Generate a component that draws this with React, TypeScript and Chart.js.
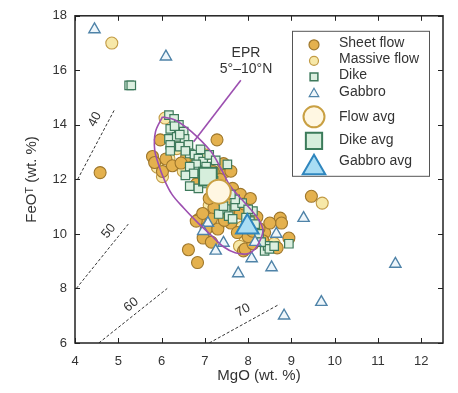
import React, { useEffect, useRef } from "react";
import { Chart, registerables } from "chart.js";

Chart.register(...registerables);

const FONT = "'Liberation Sans', Arial, Helvetica, sans-serif";

type P = [number, number];

const xTicks = [4, 5, 6, 7, 8, 9, 10, 11, 12];
const yTicks = [6, 8, 10, 12, 14, 16, 18];
const xRange: P = [4, 12.5];
const yRange: P = [6, 18];

const xTitle = "MgO (wt. %)";
const yTitle = "FeOᵀ (wt. %)";

const sheetFlow: P[] = [
  [4.58, 12.25], [7.28, 13.45], [9.46, 11.38], [8.74, 10.58], [8.77, 10.4],
  [8.94, 9.85], [8.38, 10.05], [7.89, 9.38], [6.62, 9.42], [6.83, 8.95],
  [6.87, 10.55], [5.97, 13.45], [5.79, 12.84], [6.74, 12.55], [5.84, 12.62],
  [6.02, 12.29], [6.76, 12.4], [6.8, 11.82], [7.48, 12.29], [7.64, 11.67],
  [7.82, 11.45], [7.21, 10.95], [7.7, 10.91], [7.82, 10.76], [6.8, 10.47],
  [7.03, 10.18], [7.3, 10.18], [8.04, 10.65], [8.34, 9.75], [7.93, 9.45],
  [8.67, 9.49], [6.96, 9.85], [8.2, 10.62], [7.19, 12.29], [6.58, 12.84],
  [8.11, 9.64], [7.43, 12.58],
  [6.1, 12.75], [6.25, 12.5], [6.45, 12.6], [7.1, 11.3], [7.6, 10.4],
  [7.75, 10.05], [8.0, 9.9], [8.25, 10.2], [8.5, 10.4], [7.45, 10.5],
  [7.15, 10.55], [6.95, 10.75], [7.9, 11.1], [8.05, 11.3], [7.35, 12.0],
  [7.6, 12.3], [8.1, 10.1], [7.15, 9.7],
];

const massiveFlow: P[] = [
  [4.85, 17.0], [9.71, 11.13], [6.08, 14.25], [6.35, 13.13], [6.17, 12.76],
  [6.58, 12.73], [5.9, 12.45], [6.92, 12.47], [6.85, 11.93], [7.55, 11.2],
  [7.7, 11.2], [7.25, 10.91], [7.32, 10.36], [6.98, 9.9], [8.11, 10.55],
  [7.93, 9.75], [6.4, 13.27], [7.03, 12.36], [6.02, 12.1], [7.86, 10.25],
  [7.41, 11.35],
  [6.5, 12.3], [7.0, 12.9], [7.5, 11.6], [7.1, 11.05], [7.65, 10.7],
  [8.15, 10.0], [7.8, 9.55], [8.6, 9.65],
];

const dike: P[] = [
  [5.25, 15.45], [5.3, 15.45],
  [6.17, 14.36], [6.29, 14.22], [6.4, 14.0], [6.2, 13.85], [6.51, 13.75],
  [6.17, 13.49], [6.35, 13.56], [6.53, 13.49], [6.2, 13.27], [6.42, 13.2],
  [6.62, 13.27], [6.65, 12.95], [6.76, 12.91], [6.85, 12.76], [6.96, 12.65],
  [6.8, 12.55], [7.03, 12.47], [6.85, 12.29], [7.52, 12.55], [6.65, 12.47],
  [6.74, 12.22], [6.96, 11.85], [6.65, 11.75], [6.85, 11.67], [7.48, 10.91],
  [7.55, 10.65], [7.32, 10.73], [7.43, 11.02], [7.7, 11.02], [7.86, 11.13],
  [8.11, 10.84], [8.04, 10.47], [7.7, 11.27], [8.16, 10.36], [8.38, 9.38],
  [8.45, 9.56], [8.49, 9.45], [8.94, 9.64], [6.2, 13.05], [6.42, 13.64],
  [7.64, 10.55], [8.0, 10.9], [6.3, 13.95], [6.55, 13.05],
  [6.9, 13.1], [7.1, 12.9], [7.25, 12.7], [6.55, 12.15], [7.2, 11.95],
  [7.35, 11.3], [7.6, 11.45], [7.95, 10.6], [8.25, 10.0], [8.6, 9.55],
  [8.3, 9.7],
];

const gabbro: P[] = [
  [4.45, 17.5], [6.1, 16.5], [7.07, 10.4], [6.96, 10.1], [7.43, 9.67],
  [7.25, 9.38], [7.77, 8.55], [8.08, 9.1], [8.16, 9.7], [8.65, 10.0],
  [8.54, 8.77], [9.28, 10.58], [11.4, 8.9], [9.69, 7.5], [8.83, 7.0],
];

const flowAvg: P[] = [[7.32, 11.55]];
const dikeAvg: P[] = [[7.07, 12.1]];
const gabbroAvg: P[] = [[7.98, 10.25]];

const eprOutline: P[] = [
  [6.02, 14.29], [5.86, 13.75], [5.84, 13.09], [5.93, 12.55], [6.06, 12.0],
  [6.24, 11.45], [6.51, 10.95], [6.8, 10.47], [7.14, 9.96], [7.43, 9.53],
  [7.7, 9.31], [7.98, 9.27], [8.16, 9.45], [8.29, 9.82], [8.34, 10.18],
  [8.2, 10.62], [7.89, 11.2], [7.59, 11.75], [7.37, 12.4], [7.14, 13.02],
  [6.69, 13.75], [6.31, 14.18], [6.02, 14.29],
];
const eprLeader: P[] = [[7.83, 15.64], [6.74, 13.38]];
const eprLabel = ["EPR", "5°–10°N"];
const eprLabelAt: P[] = [[7.95, 16.62], [7.95, 16.04]];

const isoLabels = ["40", "50", "60", "70"];
const isoStarts: P[] = [[4.06, 12.0], [4.03, 8.0], [4.55, 6.0], [7.1, 6.0]];
const isoEnds: P[] = [[4.91, 14.55], [5.23, 10.36], [6.13, 8.0], [8.72, 7.42]];
const isoLabelAt: P[] = [[4.46, 14.2], [4.78, 10.1], [5.3, 7.4], [7.88, 7.2]];

const legendNames = ["Sheet flow", "Massive flow", "Dike", "Gabbro", "Flow avg", "Dike avg", "Gabbro avg"];

const C = {
  sheetFill: "#E4B14E", sheetLine: "#9E772C",
  massFill: "#F7E8A8", massLine: "#C29B45",
  dikeFill: "#DCEFE0", dikeLine: "#3E7A5C",
  gabFill: "#EEF6FB", gabLine: "#4F83A8",
  favFill: "#FFF7E2", favLine: "#C9A043",
  davFill: "#D6EEDC", davLine: "#3B7B5A",
  gavFill: "#A9DDF4", gavLine: "#2F86BE",
  epr: "#9C4FB0",
  axis: "#222",
  text: "#333",
};

const toXY = (arr: P[]) => arr.map(([x, y]) => ({ x, y }));

function mark(ctx: CanvasRenderingContext2D, style: string, x: number, y: number, r: number, fill: string, stroke: string, lw: number) {
  ctx.beginPath();
  if (style === "circle") {
    ctx.arc(x, y, r, 0, Math.PI * 2);
  } else if (style === "rect") {
    const s = r * Math.SQRT1_2;
    ctx.rect(x - s, y - s, 2 * s, 2 * s);
  } else {
    for (let i = 0; i < 3; i++) {
      const a = (i * 2 * Math.PI) / 3;
      const px = x + Math.sin(a) * r;
      const py = y - Math.cos(a) * r;
      if (i === 0) ctx.moveTo(px, py);
      else ctx.lineTo(px, py);
    }
    ctx.closePath();
  }
  ctx.fillStyle = fill;
  ctx.fill();
  ctx.lineWidth = lw;
  ctx.strokeStyle = stroke;
  ctx.stroke();
}

const overlay = {
  id: "overlay",
  afterDatasetsDraw(chart: any) {
    const { ctx, chartArea: a, scales } = chart;
    const xs = scales.x;
    const ys = scales.y;
    ctx.save();
    ctx.fillStyle = C.text;
    ctx.font = `13px ${FONT}`;
    ctx.textAlign = "center";
    ctx.textBaseline = "middle";
    isoLabels.forEach((t, i) => {
      const x1 = xs.getPixelForValue(isoStarts[i][0]);
      const y1 = ys.getPixelForValue(isoStarts[i][1]);
      const x2 = xs.getPixelForValue(isoEnds[i][0]);
      const y2 = ys.getPixelForValue(isoEnds[i][1]);
      const ang = Math.atan2(y2 - y1, x2 - x1);
      ctx.save();
      ctx.translate(xs.getPixelForValue(isoLabelAt[i][0]), ys.getPixelForValue(isoLabelAt[i][1]));
      ctx.rotate(ang);
      ctx.fillText(t, 0, 0);
      ctx.restore();
    });
    ctx.font = `14px ${FONT}`;
    eprLabel.forEach((t, i) => {
      ctx.fillText(t, xs.getPixelForValue(eprLabelAt[i][0]), ys.getPixelForValue(eprLabelAt[i][1]));
    });
    ctx.strokeStyle = C.axis;
    ctx.lineWidth = 1;
    const L = 5;
    ctx.beginPath();
    xTicks.forEach((v) => {
      const p = Math.round(xs.getPixelForValue(v)) + 0.5;
      ctx.moveTo(p, a.bottom);
      ctx.lineTo(p, a.bottom - L);
      ctx.moveTo(p, a.top);
      ctx.lineTo(p, a.top + L);
    });
    yTicks.forEach((v) => {
      const p = Math.round(ys.getPixelForValue(v)) + 0.5;
      ctx.moveTo(a.left, p);
      ctx.lineTo(a.left + L, p);
      ctx.moveTo(a.right, p);
      ctx.lineTo(a.right - L, p);
    });
    ctx.stroke();
    ctx.lineWidth = 1.5;
    ctx.strokeRect(a.left, a.top, a.right - a.left, a.bottom - a.top);

    const lx = a.right - 151;
    const ly = a.top + 15;
    ctx.fillStyle = "#fff";
    ctx.fillRect(lx, ly, 137, 145);
    ctx.lineWidth = 1;
    ctx.strokeStyle = "#555";
    ctx.strokeRect(lx + 0.5, ly + 0.5, 137, 145);
    const mx = lx + 22;
    const rows = [
      { s: "circle", dy: 14, r: 5, f: C.sheetFill, l: C.sheetLine, w: 1.2, ty: 12 },
      { s: "circle", dy: 30, r: 4.5, f: C.massFill, l: C.massLine, w: 1.2, ty: 28 },
      { s: "rect", dy: 46, r: 5.5, f: C.dikeFill, l: C.dikeLine, w: 1.5, ty: 44 },
      { s: "triangle", dy: 63, r: 5.5, f: C.gabFill, l: C.gabLine, w: 1.2, ty: 61 },
      { s: "circle", dy: 86, r: 10.5, f: C.favFill, l: C.favLine, w: 2, ty: 86 },
      { s: "rect", dy: 110, r: 11.5, f: C.davFill, l: C.davLine, w: 2, ty: 109 },
      { s: "triangle", dy: 137, r: 13, f: C.gavFill, l: C.gavLine, w: 2, ty: 130 },
    ];
    ctx.font = `14px ${FONT}`;
    ctx.textAlign = "left";
    ctx.textBaseline = "middle";
    rows.forEach((r, i) => {
      mark(ctx, r.s, mx, ly + r.dy, r.r, r.f, r.l, r.w);
      ctx.fillStyle = C.text;
      ctx.fillText(legendNames[i], lx + 47, ly + r.ty);
    });
    ctx.restore();
  },
};

function lineDs(data: P[], color: string, width: number, dash: number[] = [], tension = 0) {
  return {
    data: toXY(data),
    showLine: true,
    borderColor: color,
    borderWidth: width,
    borderDash: dash,
    pointRadius: 0,
    fill: false,
    tension,
  };
}

function ptDs(data: P[], style: string, r: number, fill: string, stroke: string, w: number) {
  return {
    data: toXY(data),
    pointStyle: style,
    pointRadius: r,
    pointHoverRadius: r,
    backgroundColor: fill,
    borderColor: stroke,
    borderWidth: w,
    showLine: false,
  };
}

export default function App() {
  const ref = useRef<HTMLCanvasElement | null>(null);
  useEffect(() => {
    document.body.style.margin = "0";
    const canvas = ref.current!;
    const chart = new Chart(canvas, {
      type: "scatter",
      data: {
        datasets: [
          ptDs(gabbroAvg, "triangle", 13, C.gavFill, C.gavLine, 2),
          ptDs(flowAvg, "circle", 12, C.favFill, C.favLine, 2),
          ptDs(dikeAvg, "rect", 12.5, C.davFill, C.davLine, 2),
          lineDs(eprOutline, C.epr, 1.6, [], 0.35),
          lineDs(eprLeader, C.epr, 1.6),
          ptDs(gabbro, "triangle", 6.5, C.gabFill, C.gabLine, 1.4),
          ptDs(dike, "rect", 6, C.dikeFill, C.dikeLine, 1.2),
          ptDs(sheetFlow, "circle", 6, C.sheetFill, C.sheetLine, 1.1),
          ptDs(massiveFlow, "circle", 6, C.massFill, C.massLine, 1.1),
          ...isoStarts.map((s, i) => lineDs([s, isoEnds[i]], "#333", 1, [3, 2])),
        ] as any,
      },
      options: {
        responsive: false,
        animation: false,
        devicePixelRatio: 1,
        layout: { padding: { top: 13, right: 6, left: 0, bottom: 0 } },
        plugins: { legend: { display: false }, tooltip: { enabled: false } },
        scales: {
          x: {
            type: "linear",
            min: xRange[0],
            max: xRange[1],
            afterBuildTicks: (s: any) => { s.ticks = xTicks.map((v) => ({ value: v })); },
            afterFit: (s: any) => { s.height = 50; },
            grid: { display: false, drawTicks: false },
            border: { display: false },
            ticks: { padding: 11, color: C.text, font: { family: FONT, size: 13 } },
            title: { display: true, text: xTitle, color: C.text, padding: { top: 0, bottom: 8 }, font: { family: FONT, size: 15 } },
          },
          y: {
            type: "linear",
            min: yRange[0],
            max: yRange[1],
            afterBuildTicks: (s: any) => { s.ticks = yTicks.map((v) => ({ value: v })); },
            afterFit: (s: any) => { s.width = 75; },
            grid: { display: false, drawTicks: false },
            border: { display: false },
            ticks: { padding: 8, color: C.text, font: { family: FONT, size: 13 } },
            title: { display: true, text: yTitle, color: C.text, padding: { top: 23, bottom: 0 }, font: { family: FONT, size: 15 } },
          },
        },
      } as any,
      plugins: [overlay],
    });
    return () => chart.destroy();
  }, []);
  return (
    <div style={{ width: 458, height: 393 }}>
      <canvas ref={ref} width={458} height={393} />
    </div>
  );
}
